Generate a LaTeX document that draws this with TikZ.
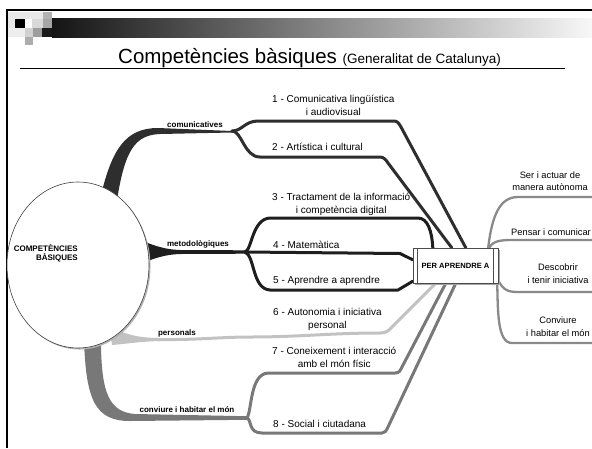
\documentclass[tikz,border=0pt]{standalone}
\usepackage{fontspec}
\setmainfont{Liberation Sans}
\usetikzlibrary{shapes.geometric}
\definecolor{cdark}{HTML}{2E2E2E}
\definecolor{cmet}{HTML}{1E1E1E}
\definecolor{cpers}{HTML}{C2C2C2}
\definecolor{cconv}{HTML}{787878}
\definecolor{cright}{HTML}{8A8A8A}
\begin{document}
\begin{tikzpicture}[x=1pt,y=-1pt,
  lbl/.style={font=\fontsize{10}{13}\selectfont, inner sep=0pt, align=center, anchor=west},
  rlbl/.style={font=\fontsize{9.3}{12.5}\selectfont, inner sep=0pt, align=center},
  blbl/.style={font=\fontsize{8}{9}\selectfont\bfseries, inner sep=0pt},
  child/.style={line width=3pt, line cap=round, line join=round},
  rline/.style={line width=2.3pt, draw=cright, line cap=round},
]
\useasboundingbox (0,0) rectangle (592,448);
\clip (0,0) rectangle (592,448);
\fill[white] (0,0) rectangle (592,448);

% header decoration
\fill[black!9] (8,12) rectangle (43,28);
\fill[black!7] (8,28) rectangle (25,37);
\fill[black!30] (43,12) rectangle (52,19);
\fill[black] (15,19) rectangle (25,28);
\fill[white] (25,19) rectangle (32,28);
\fill[black!15] (32,19) rectangle (43,28);
\fill[black!35] (43,19) rectangle (52,28);
\fill[black!18] (25,28) rectangle (33,37);
\fill[black!38] (33,28) rectangle (42,37);
\fill[black!90] (42,28) rectangle (52,37);
\fill[black!32] (25,37) rectangle (33,45);
\shade[left color=black!92, right color=black!3] (52,18) rectangle (592,37);

% frame
\draw[line width=2.6pt] (7,448) -- (7,10) -- (592,10);

% title
\node[anchor=base west, inner sep=0pt] (title) at (118,63)
  {\fontsize{20.5}{23}\selectfont Competències bàsiques \fontsize{13.5}{15}\selectfont(Generalitat de Catalunya)};
\draw[line width=1.6pt] (20,68.5) -- (565,68.5);

% branch points
\coordinate (com) at (232,131);
\coordinate (met) at (245,252);
\coordinate (pers) at (158,339.5);
\coordinate (conv) at (247,418);

% central box (placement)
\node[minimum width=85pt, minimum height=35pt, inner sep=0pt] (per) at (455.5,265.5) {};

% trunks
\fill[cdark] (101,195) .. controls (112,150) and (125,128) .. (158,128) -- (com) -- ([yshift=-1.5pt]com)
  -- (160,134) .. controls (135,135) and (125,150) .. (117,200) -- cycle;
\fill[cmet] (140,240) .. controls (155,246) and (165,249.5) .. (180,250) -- ([yshift=1.7pt]met)
  -- ([yshift=-1.7pt]met) -- (180,254) .. controls (165,254.5) and (155,258) .. (140,264) -- cycle;
\fill[cpers] (110,326) .. controls (125,335) and (140,338) .. (160,338) -- (160,341)
  .. controls (140,341.5) and (125,344) .. (112,345) -- cycle;
\fill[cconv] (84,340) .. controls (86,400) and (95,421) .. (130,421) -- ([yshift=-1.8pt]conv)
  -- ([yshift=1.8pt]conv) -- (135,414) .. controls (110,412) and (101,395) .. (101,340) -- cycle;

% children: comunicatives
\draw[child, cdark] (com) .. controls (242,131) and (245,121) .. (258,121) -- (394,121)
  .. controls (398,121) and (399,124) .. (401,127) -- ([xshift=53pt]per.north west);
\draw[child, cdark] (com) .. controls (242,131) and (244,157) .. (260,157) -- (380,157)
  .. controls (384,157) and (386,160) .. (388,163) -- ([xshift=39pt]per.north west);
% metodologiques
\draw[child, cmet] (met) .. controls (252,250) and (252,219) .. (270,218) -- (418,218)
  .. controls (428,218) and (432,232) .. ([xshift=20pt]per.north west);
\draw[child, cmet] (met) -- (400,253.5) -- ([yshift=-12pt]per.north west);
\draw[child, cmet] (met) .. controls (255,256) and (252,289) .. (270,290) -- (398,290)
  -- ([yshift=2pt]per.south west);
% personals
\draw[child, cpers] (pers) .. controls (200,340) and (220,337) .. (250,337)
  .. controls (300,337) and (330,333) .. (380,333) .. controls (386,333) and (388,331) .. (391,328)
  -- ([xshift=23pt]per.south west);
% conviure
\draw[child, cconv] (conv) .. controls (252,410) and (250,374) .. (268,373) -- (395,373)
  .. controls (399,373) and (400,371) .. (402,367) -- ([xshift=33pt]per.south west);
\draw[child, cconv] (conv) .. controls (252,420) and (248,433) .. (262,433) -- (382,433)
  .. controls (385,433) and (386,431) .. (388,427) -- ([xshift=43pt]per.south west);

% right side
\coordinate (ra) at (600,197);
\coordinate (rb) at (600,240);
\coordinate (rc) at (600,292);
\coordinate (rd) at (600,343);
\draw[rline] ([xshift=-10pt]per.north east) .. controls (492,215) and (500,197) .. (518,197) -- (ra);
\draw[rline] ([xshift=-9pt]per.north east) .. controls (493,241) and (500,240) .. (512,240) -- (rb);
\draw[rline] ([yshift=3pt]per.south east) .. controls (503,290) and (508,292) .. (518,292) -- (rc);
\draw[rline] ([xshift=-1pt]per.south east) .. controls (498,310) and (497,343) .. (512,343) -- (rd);

% box drawn on top
\fill[black!35] (414.5,249.5) rectangle (499.5,284.5);
\node[draw=black!70, fill=white, line width=0.7pt, minimum width=85pt, minimum height=35pt,
      inner sep=0pt, font=\fontsize{7.6}{9}\selectfont\bfseries] (per2) at (per.center) {PER APRENDRE A};
\draw[black!70, line width=0.6pt] ([xshift=5pt]per2.north west) -- ([xshift=5pt]per2.south west);
\draw[black!70, line width=0.6pt] ([xshift=-5pt]per2.north east) -- ([xshift=-5pt]per2.south east);

% central ellipse
\fill[black!30] (79.5,266.5) ellipse [x radius=71, y radius=83];
\node[ellipse, draw=black!75, fill=white, line width=0.6pt, minimum width=142pt, minimum height=166pt,
      inner sep=0pt] (cb) at (78,265) {};
\node[blbl, align=right, anchor=east] (cbt) at ([yshift=11.5pt]cb.center) {COMPETÈNCIES\\BÀSIQUES};

% branch labels
\node[blbl] (lcom) at (195,125) {comunicatives};
\node[blbl] (lmet) at (198,244) {metodològiques};
\node[blbl] (lpers) at (177,333) {personals};
\node[blbl] (lconv) at (187,410) {conviure i habitar el món};

% child labels
\node[lbl] (t1) at (272,105) {1 - Comunicativa lingüística\\i audiovisual};
\node[lbl] (t2) at (272,147) {2 - Artística i cultural};
\node[lbl] (t3) at (272,204) {3 - Tractament de la informació\\i competència digital};
\node[lbl] (t4) at (273,245) {4 - Matemàtica};
\node[lbl] (t5) at (273,281) {5 - Aprendre a aprendre};
\node[lbl] (t6) at (273,319) {6 - Autonomia i iniciativa\\personal};
\node[lbl] (t7) at (272,357.5) {7 - Coneixement i interacció\\amb el món físic};
\node[lbl] (t8) at (273,424) {8 - Social i ciutadana};

% right labels
\node[rlbl] (r1) at (550,181) {Ser i actuar de\\manera autònoma};
\node[rlbl, anchor=west] (r2) at (511,232) {Pensar i comunicar};
\node[rlbl] (r3) at (558,273.5) {Descobrir\\i tenir iniciativa};
\node[rlbl] (r4) at (558,326.5) {Conviure\\i habitar el món};
\end{tikzpicture}
\end{document}
